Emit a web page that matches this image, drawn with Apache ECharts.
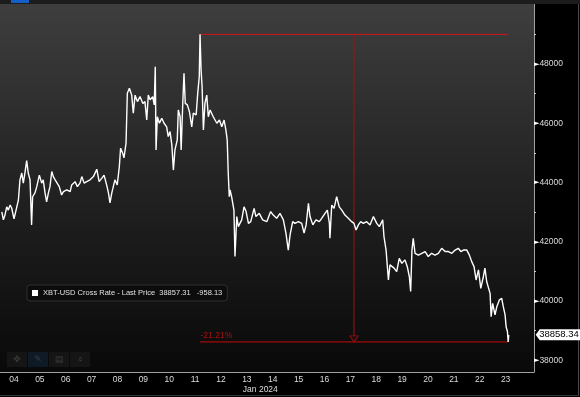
<!DOCTYPE html>
<html><head><meta charset="utf-8">
<script src="https://cdn.jsdelivr.net/npm/echarts@6/dist/echarts.min.js"></script>
<style>html,body{margin:0;padding:0;background:#000}#c{width:580px;height:397px}</style>
</head><body><div id="c"></div>
<script>
const seriesName = 'XBT-USD Cross Rate - Last Price';
const lastPriceText = '38857.31';
const netChangeText = '-958.13';
const lastTagValue = 38858.34;
const monthLabel = 'Jan 2024';
const monthLabelDay = 13.52;
const dayTicks = [4,5,6,7,8,9,10,11,12,13,14,15,16,17,18,19,20,21,22,23];
const priceLabels = [38000,40000,42000,44000,46000,48000];
const priceTicks = [38000,39000,40000,41000,42000,43000,44000,45000,46000,47000,48000,49000];
const measureDays = [11.19, 23.10];
const measureArrowDay = 17.14;
const measureHigh = 49000;
const measureLow = 38620;
const changeLabel = '-21.21%';

const times = [3.53,3.59,3.65,3.72,3.78,3.85,3.91,4.00,4.08,4.17,4.23,4.30,4.36,4.43,4.49,4.55,4.62,4.68,4.72,4.81,4.88,4.98,5.07,5.13,5.20,5.26,5.33,5.39,5.46,5.52,5.59,5.65,5.75,5.84,5.91,6.04,6.17,6.23,6.36,6.45,6.55,6.62,6.71,6.81,6.94,7.07,7.20,7.29,7.39,7.48,7.58,7.65,7.71,7.78,7.84,7.90,7.99,8.07,8.12,8.20,8.25,8.33,
8.38,8.46,8.55,8.61,8.68,8.77,8.87,8.98,9.06,9.13,9.19,9.26,9.36,9.42,9.46,9.49,9.54,9.62,9.71,9.80,9.90,9.96,10.03,10.10,10.16,10.22,10.31,10.35,10.42,10.46,10.52,10.57,10.62,10.70,10.78,10.87,10.93,11.04,11.10,11.16,11.19,11.23,11.27,11.32,11.38,11.45,11.51,11.58,11.70,11.84,11.94,12.03,12.12,12.19,12.24,12.28,12.32,
12.35,12.41,12.50,12.54,12.61,12.67,12.80,12.89,12.97,13.06,13.15,13.28,13.35,13.48,13.61,13.77,13.92,14.02,14.15,14.28,14.41,14.51,14.60,14.67,14.77,14.86,14.99,15.12,15.21,15.29,15.38,15.44,15.55,15.67,15.80,15.89,16.02,16.11,16.19,16.21,16.28,16.37,16.47,16.57,16.67,16.79,16.92,17.05,17.14,17.22,17.31,17.40,17.50,17.63,17.76,17.89,18.02,18.12,18.25,18.30,18.38,18.47,18.53,18.60,18.69,18.79,18.89,18.99,19.11,19.20,19.28,19.33,19.38,19.43,19.50,19.63,19.76,19.89,20.01,20.14,20.27,20.40,20.53,20.66,20.79,20.92,21.05,21.17,21.27,21.37,21.50,21.60,21.69,21.78,21.86,21.95,22.04,22.14,22.20,22.27,22.33,22.40,22.44,22.50,22.59,22.66,22.76,22.85,22.91,22.98,23.02,23.07,23.10,23.12];

const prices = [43010,42740,42900,43180,43070,43240,43140,42770,43070,43410,44090,44320,43980,44370,44740,44320,44090,42570,43520,43650,43860,44250,43980,44090,43650,43350,43650,43860,44370,44200,44090,44030,43860,43580,43690,43750,43690,43920,44030,43860,43980,44200,43980,44030,44090,44200,44450,44030,44140,44250,43920,43650,43310,43650,43690,44090,43920,44530,45160,44990,44830,45330,
47010,47180,46950,46340,46950,46730,46900,46670,46730,46110,46950,46790,46900,46620,47910,45100,46220,46000,46170,46000,45880,45550,45720,45270,44420,45100,45440,46450,46220,45100,46620,47690,46670,46620,46390,45880,46340,46280,47010,47570,49000,47800,47230,45770,46670,46950,46220,46450,46220,46000,46110,45880,46110,45770,45440,44310,43520,
43750,43520,43070,41500,42850,42510,42740,43180,43020,42620,42680,43130,42850,42960,42740,42680,43020,42900,42790,42960,42740,42290,41720,42230,42680,42620,42680,42620,42290,42570,43300,42850,42570,42740,42680,42790,42960,43070,42620,42120,43240,43130,43520,43180,43070,42900,42790,42680,42620,42400,42570,42680,42620,42680,42570,42850,42620,42510,42740,42170,41720,40710,41220,41270,41110,40990,41440,41270,41390,41160,40820,40320,41720,42120,41610,41550,41610,41670,41500,41610,41550,41610,41780,41670,41670,41610,41720,41780,41670,41720,41720,41550,41330,41160,40710,41050,40430,40820,41110,40650,40710,40260,39470,39920,39530,39810,40040,40090,39810,39530,39130,38970,38620,38858];

const X_MIN = 3.459, X_MAX = 24.097, Y_MIN = 37605, Y_MAX = 50025;
const FONT = 'Liberation Sans';

const chart = echarts.init(document.getElementById('c'), null, {renderer: 'canvas'});
const option = {
  animation: false,
  backgroundColor: '#000',
  grid: {
    left: 0, right: 46, top: 4, bottom: 25, show: true, borderWidth: 0, borderColor: 'transparent',
    outerBoundsMode: 'none', containLabel: false,
    backgroundColor: new echarts.graphic.LinearGradient(0, 0, 0, 1, [
      {offset: 0, color: '#3e3e3e'}, {offset: 0.5, color: '#222222'}, {offset: 1, color: '#090909'}])
  },
  legend: {
    data: [seriesName], left: 27, top: 285, icon: 'rect', itemWidth: 6, itemHeight: 6,
    padding: [4, 5, 4, 5], backgroundColor: '#0c0c0c', borderColor: '#303030', borderWidth: 1, borderRadius: 3,
    selectedMode: false,
    textStyle: {color: '#e0e0e0', fontSize: 7.5, fontFamily: FONT},
    formatter: n => n + '  ' + lastPriceText + '   ' + netChangeText
  },
  xAxis: {
    type: 'value', min: X_MIN, max: X_MAX,
    axisLine: {show: true, lineStyle: {color: '#a0a0a0', width: 1}},
    axisTick: {show: false}, splitLine: {show: false},
    axisLabel: {customValues: dayTicks, formatter: v => String(v).padStart(2, '0'),
      color: '#dcdcdc', fontSize: 8.5, fontFamily: FONT, margin: 3}
  },
  yAxis: {
    type: 'value', position: 'right', min: Y_MIN, max: Y_MAX, scale: true,
    axisLine: {show: true, lineStyle: {color: '#a0a0a0', width: 1}},
    axisTick: {show: true, customValues: priceTicks, length: 2, lineStyle: {color: '#cfcfcf'}},
    splitLine: {show: false},
    axisLabel: {customValues: priceLabels, margin: 0,
      formatter: v => '{t|\u25BA}{v|' + v + '}',
      rich: {t: {fontSize: 7, color: '#ffffff', fontFamily: 'DejaVu Sans', padding: [0, 0, 0, 0]},
             v: {fontSize: 8.5, color: '#dcdcdc', fontFamily: FONT}}}
  },
  series: [
    {type: 'line', name: seriesName, data: times.map((t, i) => [t, prices[i]]),
     showSymbol: false, symbol: 'none', z: 3,
     lineStyle: {color: '#ffffff', width: 1.4}, itemStyle: {color: '#ffffff'}},
    {type: 'line', data: [[measureDays[0], measureHigh], [measureDays[1], measureHigh]], symbol: 'none', z: 2,
     lineStyle: {color: '#d01418', width: 1}, silent: true},
    {type: 'line', data: [[measureDays[0], measureLow], [measureDays[1], measureLow]], symbol: 'none', z: 2,
     lineStyle: {color: '#c40c0c', width: 1}, silent: true},
    {type: 'line', data: [[measureArrowDay, measureHigh], [measureArrowDay, measureLow]], symbol: 'none', z: 2,
     lineStyle: {color: '#a01212', width: 1}, silent: true},
    {type: 'scatter', data: [[measureArrowDay, measureLow]], symbol: 'triangle', symbolRotate: 180,
     symbolSize: [8, 6], symbolOffset: [0, -3], z: 4, silent: true,
     itemStyle: {color: '#0f0f0f', borderColor: '#b01010', borderWidth: 1}},
    {type: 'scatter', data: [[measureDays[0], measureLow]], symbolSize: 1, z: 4, silent: true,
     itemStyle: {color: 'rgba(0,0,0,0)'},
     label: {show: true, formatter: changeLabel, position: [1, -10], color: '#d01010', fontSize: 8.5, fontFamily: FONT}}
  ]
};
chart.setOption(option);

const tag = chart.convertToPixel({gridIndex: 0}, [X_MAX, lastTagValue]);
const month = chart.convertToPixel({gridIndex: 0}, [monthLabelDay, Y_MIN]);
const tx = tag[0] + 1.7, ty = tag[1];
const toolColors = ['#151515', '#0e1a26', '#151515', '#151515'];
const toolGlyphs = ['\u2725', '\u270E', '\u25A4', '\u2315'];
const graphics = [
  {type: 'rect', shape: {x: 0, y: 0, width: 580, height: 4}, style: {fill: '#1c1c1c'}, z: 10},
  {type: 'rect', shape: {x: 11, y: 0, width: 18, height: 3}, style: {fill: '#1560c8'}, z: 11},
  {type: 'line', shape: {x1: 578.5, y1: 4, x2: 578.5, y2: 396}, style: {stroke: '#4a4a4a', lineWidth: 1}, z: 10},
  {type: 'line', shape: {x1: 0, y1: 395.5, x2: 579, y2: 395.5}, style: {stroke: '#333333', lineWidth: 1}, z: 10},
  {type: 'polygon', shape: {points: [[tx, ty], [tx + 4, ty - 5.5], [580, ty - 5.5], [580, ty + 5.5], [tx + 4, ty + 5.5]]},
   style: {fill: '#ffffff'}, z: 20},
  {type: 'text', x: tx + 3.5, y: ty, style: {text: lastTagValue.toFixed(2), fill: '#000', font: '9.5px "Liberation Sans"', verticalAlign: 'middle', align: 'left'}, z: 21},
  {type: 'text', x: month[0], y: 390, style: {text: monthLabel, fill: '#dcdcdc', font: '8.5px "Liberation Sans"', verticalAlign: 'middle', align: 'center'}, z: 10}
];
toolColors.forEach((c, i) => {
  graphics.push({type: 'rect', shape: {x: 7 + i * 21, y: 352, width: 20, height: 15}, style: {fill: c}, z: 5});
  graphics.push({type: 'text', x: 17 + i * 21, y: 359.5, style: {text: toolGlyphs[i], fill: '#3c3c3c', font: '9px "DejaVu Sans"', align: 'center', verticalAlign: 'middle'}, z: 6});
});
chart.setOption({graphic: graphics});
</script></body></html>
